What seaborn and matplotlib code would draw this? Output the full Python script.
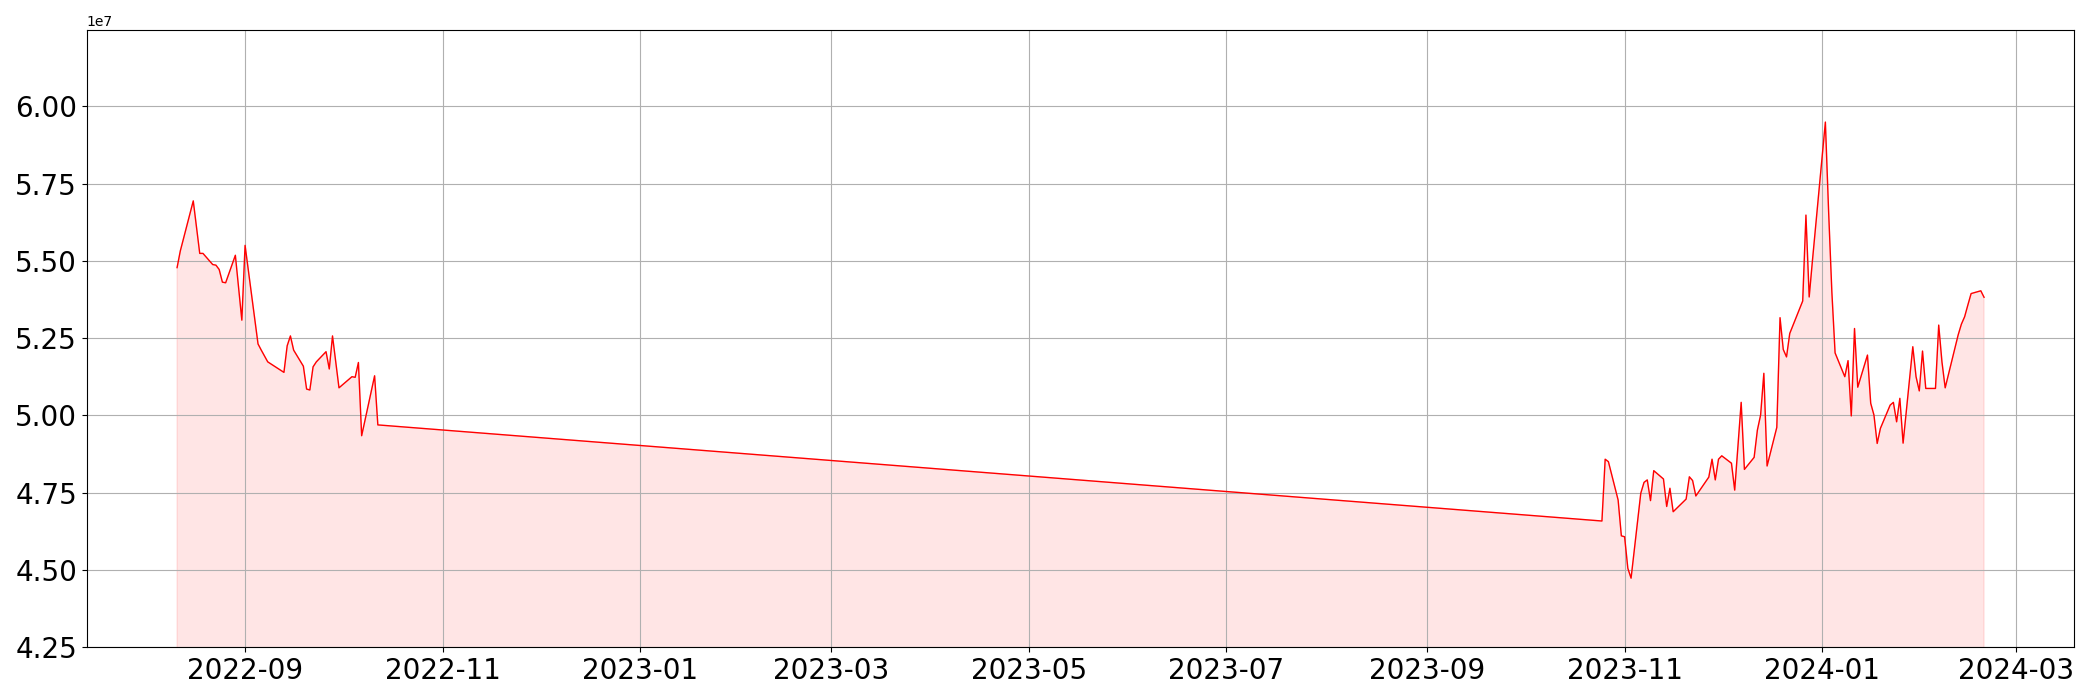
import pandas as pd
import seaborn as sns
import matplotlib.pyplot as plt

# trading days and values (in units of 1e7)
dates = [
    "2022-08-11", "2022-08-12", "2022-08-16", "2022-08-18", "2022-08-19",
    "2022-08-22", "2022-08-23", "2022-08-24", "2022-08-25", "2022-08-26",
    "2022-08-29", "2022-08-31", "2022-09-01", "2022-09-05", "2022-09-06",
    "2022-09-08", "2022-09-13", "2022-09-14", "2022-09-15", "2022-09-16",
    "2022-09-19", "2022-09-20", "2022-09-21", "2022-09-22", "2022-09-23",
    "2022-09-26", "2022-09-27", "2022-09-28", "2022-09-30", "2022-10-04",
    "2022-10-05", "2022-10-06", "2022-10-07", "2022-10-11", "2022-10-12",
    "2023-10-25", "2023-10-26", "2023-10-27", "2023-10-30", "2023-10-31",
    "2023-11-01", "2023-11-02", "2023-11-03", "2023-11-06", "2023-11-07",
    "2023-11-08", "2023-11-09", "2023-11-10", "2023-11-13", "2023-11-14",
    "2023-11-15", "2023-11-16", "2023-11-20", "2023-11-21", "2023-11-22",
    "2023-11-23", "2023-11-27", "2023-11-28", "2023-11-29", "2023-11-30",
    "2023-12-01", "2023-12-04", "2023-12-05", "2023-12-07", "2023-12-08",
    "2023-12-11", "2023-12-12", "2023-12-13", "2023-12-14", "2023-12-15",
    "2023-12-18", "2023-12-19", "2023-12-20", "2023-12-21", "2023-12-22",
    "2023-12-26", "2023-12-27", "2023-12-28", "2023-12-29", "2024-01-02",
    "2024-01-03", "2024-01-04", "2024-01-05", "2024-01-08", "2024-01-09",
    "2024-01-10", "2024-01-11", "2024-01-12", "2024-01-15", "2024-01-16",
    "2024-01-17", "2024-01-18", "2024-01-19", "2024-01-22", "2024-01-23",
    "2024-01-24", "2024-01-25", "2024-01-26", "2024-01-29", "2024-01-30",
    "2024-01-31", "2024-02-01", "2024-02-02", "2024-02-05", "2024-02-06",
    "2024-02-07", "2024-02-08", "2024-02-09", "2024-02-12", "2024-02-13",
    "2024-02-14", "2024-02-15", "2024-02-16", "2024-02-19", "2024-02-20",
]
values = [
    5.478, 5.532, 5.694, 5.524, 5.524,
    5.488, 5.486, 5.472, 5.431, 5.429,
    5.518, 5.308, 5.550, 5.231, 5.211,
    5.173, 5.139, 5.225, 5.257, 5.211,
    5.159, 5.085, 5.082, 5.157, 5.173,
    5.206, 5.150, 5.257, 5.089, 5.125,
    5.123, 5.171, 4.934, 5.128, 4.969,
    4.658, 4.858, 4.850, 4.726, 4.610,
    4.607, 4.505, 4.473, 4.748, 4.783,
    4.791, 4.724, 4.821, 4.794, 4.705,
    4.764, 4.688, 4.729, 4.801, 4.789,
    4.739, 4.800, 4.858, 4.791, 4.858,
    4.869, 4.845, 4.758, 5.042, 4.825,
    4.864, 4.952, 5.001, 5.136, 4.836,
    4.961, 5.316, 5.213, 5.189, 5.265,
    5.370, 5.648, 5.383, 5.500, 5.949,
    5.660, 5.400, 5.202, 5.125, 5.177,
    4.998, 5.281, 5.091, 5.195, 5.039,
    5.001, 4.909, 4.958, 5.033, 5.042,
    4.979, 5.055, 4.910, 5.222, 5.125,
    5.079, 5.208, 5.087, 5.087, 5.292,
    5.173, 5.089, 5.132, 5.260, 5.295,
    5.319, 5.357, 5.394, 5.403, 5.382,
]

df = pd.DataFrame({"date": pd.to_datetime(dates), "value": [v * 1e7 for v in values]})

fig, ax = plt.subplots(figsize=(21, 7), dpi=100)

sns.lineplot(data=df, x="date", y="value", color="red", linewidth=1, ax=ax)
ax.fill_between(df["date"], df["value"], color="red", alpha=0.1)

ax.set_ylim(df["value"].min() * 0.95, df["value"].max() * 1.05)
ax.set_xlabel(None)
ax.set_ylabel(None)
ax.tick_params(axis="both", labelsize=20)
ax.grid(True)

fig.tight_layout()
fig.savefig("out.png", dpi=100)
